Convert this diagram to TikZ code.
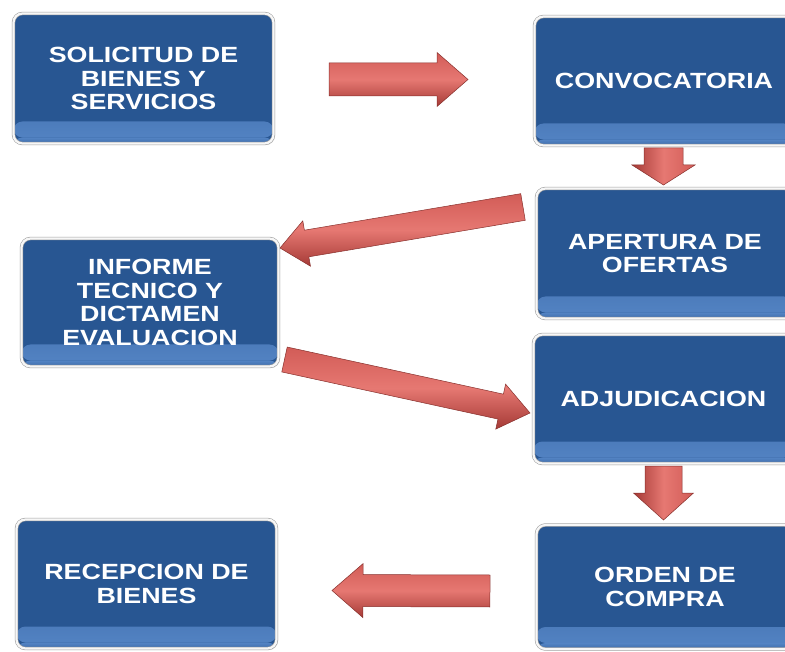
\documentclass[tikz,border=0pt]{standalone}
\usepackage{fontspec}
\newfontfamily\boxfont[FakeStretch=1.22]{Liberation Sans Bold}
\usetikzlibrary{calc,shadows}
\definecolor{boxblue}{RGB}{40,86,146}
\definecolor{bandblue}{RGB}{84,132,196}
\definecolor{bandedge}{RGB}{62,108,170}
\definecolor{arrlight}{RGB}{230,120,114}
\definecolor{arrmid}{RGB}{210,92,87}
\definecolor{arrdark}{RGB}{165,58,54}
\definecolor{arredge}{RGB}{135,48,44}
\definecolor{framegray}{RGB}{160,160,160}
\tikzset{
  procbox/.style 2 args={rectangle, rounded corners=9pt,
    minimum width=#1, minimum height=#2, inner sep=0pt,
    fill=boxblue, draw=framegray, line width=0.6pt,
    double=white!94!gray, double distance=2.2pt,
    text=white, align=center,
    font=\boxfont\fontsize{22}{23.5}\selectfont,
    drop shadow={opacity=0.25, shadow xshift=1.5pt, shadow yshift=-1.5pt},
    path picture={
      \shade[top color=boxblue, bottom color=bandblue]
        ($(path picture bounding box.south west)+(0,-22)$)
        rectangle ($(path picture bounding box.south east)+(0,-6)$);
      \shade[top color=bandblue, bottom color=bandedge]
        ($(path picture bounding box.south west)+(0,-6)$)
        rectangle (path picture bounding box.south east);
    }},
  harr/.style={draw=arredge, line width=0.5pt,
    top color=arrmid, bottom color=arrdark, middle color=arrlight},
  varr/.style={draw=arredge, line width=0.5pt,
    left color=arrdark, right color=arrmid, middle color=arrlight}
}
% #1 style, #2 tail, #3 tip, #4 shaft half width, #5 head half width, #6 head length
\newcommand\blockarr[6]{%
  \coordinate (bah) at ($(#3)!#6!(#2)$);
  \draw[#1] ($(#2)!#4!90:(#3)$) -- ($(bah)!#4!-90:(#2)$) -- ($(bah)!#5!-90:(#2)$)
    -- (#3) -- ($(bah)!#5!90:(#2)$) -- ($(bah)!#4!90:(#2)$)
    -- ($(#2)!#4!-90:(#3)$) -- cycle;
}
\begin{document}
\begin{tikzpicture}[x=1pt,y=-1pt]
\useasboundingbox (0,0) rectangle (785,652);

\node[procbox={260pt}{130pt}] (sol) at (143.5,78.5) {SOLICITUD DE\\BIENES Y\\SERVICIOS};
\node[procbox={259pt}{129pt}] (conv) at (664,81) {CONVOCATORIA};
\node[procbox={257pt}{130pt}] (apert) at (665,253.5) {APERTURA DE\\OFERTAS};
\node[procbox={257pt}{128pt}] (inf) at (150,302.5) {INFORME\\TECNICO Y\\DICTAMEN\\EVALUACION};
\node[procbox={260pt}{129pt}] (adj) at (663.5,399) {ADJUDICACION};
\node[procbox={257pt}{124pt}] (orden) at (665,587) {ORDEN DE\\COMPRA};
\node[procbox={260pt}{129pt}] (rec) at (146.5,584) {RECEPCION DE\\BIENES};

% connector end points
\coordinate (a1t) at (329,79.5);   \coordinate (a1h) at (468,79.5);
\coordinate (a2t) at (663.5,148);  \coordinate (a2h) at (663.5,185);
\coordinate (a3t) at (523,207);    \coordinate (a3h) at (280,248);
\coordinate (a4t) at (284.5,359.5);\coordinate (a4h) at (530,413);
\coordinate (a5t) at (663.5,466);  \coordinate (a5h) at (663.5,520);
\coordinate (a6t) at (490,591);    \coordinate (a6h) at (332,590.5);

\blockarr{harr}{a1t}{a1h}{16.5pt}{27pt}{31pt}
\blockarr{varr}{a2t}{a2h}{19.5pt}{31.5pt}{20pt}
\blockarr{harr}{a3t}{a3h}{13.5pt}{23pt}{27pt}
\blockarr{harr}{a4t}{a4h}{12.75pt}{23pt}{30pt}
\blockarr{varr}{a5t}{a5h}{18.5pt}{30pt}{27pt}
\blockarr{harr}{a6t}{a6h}{16pt}{27pt}{31pt}
\end{tikzpicture}
\end{document}
